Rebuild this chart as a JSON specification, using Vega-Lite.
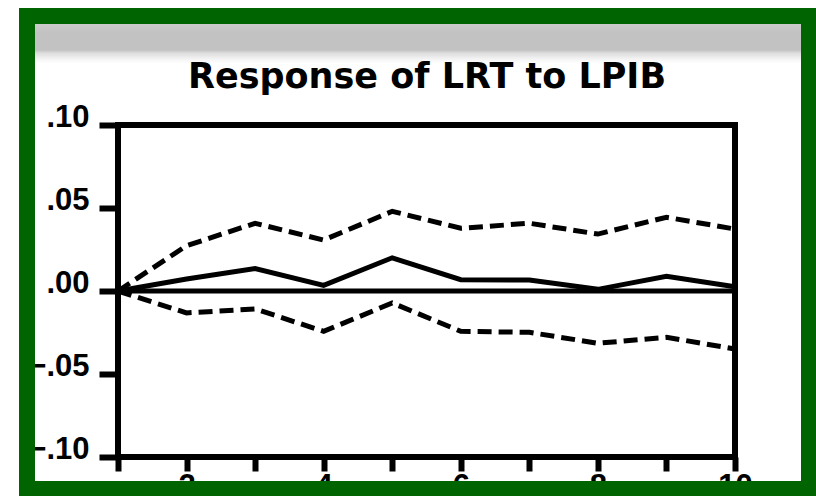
{
  "$schema": "https://vega.github.io/schema/vega-lite/v6.json",
  "width": 782,
  "height": 473,
  "autosize": {"type": "none"},
  "padding": {"left": 27, "top": 16, "right": 7, "bottom": 7},
  "background": "white",
  "config": {
    "view": {
      "stroke": null,
      "fill": {
        "gradient": "linear", "x1": 0, "y1": 0, "x2": 0, "y2": 1,
        "stops": [
          {"offset": 0, "color": "#d4d4d4"},
          {"offset": 0.036, "color": "#c2c2c2"},
          {"offset": 0.072, "color": "#c2c2c2"},
          {"offset": 0.078, "color": "#dcdcdc"},
          {"offset": 0.09, "color": "#f2f2f2"},
          {"offset": 0.1, "color": "#ffffff"},
          {"offset": 1, "color": "#ffffff"}
        ]
      }
    }
  },
  "title": {
    "text": "Response of LRT to LPIB",
    "font": "DejaVu Sans",
    "fontSize": 35,
    "fontWeight": "bold",
    "color": "black",
    "anchor": "middle",
    "frame": "group",
    "dx": 9,
    "offset": -115,
    "baseline": "alphabetic"
  },
  "data": {
    "values": [
      {"period": 1, "response": 0.0, "lower": 0.0, "upper": 0.0},
      {"period": 2, "response": 0.0072, "lower": -0.0132, "upper": 0.0273},
      {"period": 3, "response": 0.0135, "lower": -0.0108, "upper": 0.0408},
      {"period": 4, "response": 0.0034, "lower": -0.0243, "upper": 0.0307},
      {"period": 5, "response": 0.0200, "lower": -0.0072, "upper": 0.0480},
      {"period": 6, "response": 0.0068, "lower": -0.0243, "upper": 0.0378},
      {"period": 7, "response": 0.0066, "lower": -0.0249, "upper": 0.0408},
      {"period": 8, "response": 0.0010, "lower": -0.0315, "upper": 0.0343},
      {"period": 9, "response": 0.0088, "lower": -0.0279, "upper": 0.0444},
      {"period": 10, "response": 0.0025, "lower": -0.0349, "upper": 0.0373}
    ]
  },
  "layer": [
    {
      "mark": {"type": "line", "color": "black", "strokeWidth": 5, "strokeDash": [14, 7], "strokeCap": "butt"},
      "encoding": {
        "x": {
          "field": "period", "type": "quantitative",
          "scale": {"domain": [-0.3274, 11.0794], "nice": false, "zero": false},
          "axis": {
            "orient": "bottom", "offset": -32, "values": [1, 2, 3, 4, 5, 6, 7, 8, 9, 10],
            "labelExpr": "datum.value % 2 == 0 ? format(datum.value, 'd') : ''",
            "domain": false, "grid": false, "tickSize": 14, "tickWidth": 6, "tickColor": "black",
            "labelFont": "Liberation Sans", "labelFontSize": 31, "labelFontWeight": "bold",
            "labelColor": "black", "labelPadding": 0, "labelFlush": false, "labelOverlap": false,
            "title": null
          }
        },
        "y": {
          "field": "upper", "type": "quantitative",
          "scale": {"domain": [-0.11928, 0.16566], "nice": false, "zero": false},
          "axis": {
            "orient": "left", "offset": -91, "values": [-0.1, -0.05, 0, 0.05, 0.1],
            "labelExpr": "replace(format(datum.value, '.2f'), '0.', '.')",
            "domain": false, "grid": false, "tickSize": 19, "tickWidth": 6, "tickColor": "black",
            "labelFont": "Liberation Sans", "labelFontSize": 31, "labelFontWeight": "bold",
            "labelColor": "black", "labelPadding": 10, "labelOffset": -7, "labelBaseline": "middle",
            "labelFlush": false, "labelOverlap": false,
            "title": null
          }
        }
      }
    },
    {
      "mark": {"type": "line", "color": "black", "strokeWidth": 5, "strokeDash": [14, 7], "strokeCap": "butt"},
      "encoding": {
        "x": {"field": "period", "type": "quantitative"},
        "y": {"field": "lower", "type": "quantitative"}
      }
    },
    {
      "mark": {"type": "line", "color": "black", "strokeWidth": 5},
      "encoding": {
        "x": {"field": "period", "type": "quantitative"},
        "y": {"field": "response", "type": "quantitative"}
      }
    },
    {
      "data": {"values": [{}]},
      "mark": {"type": "rule", "color": "black", "strokeWidth": 5},
      "encoding": {
        "x": {"datum": 1, "type": "quantitative"},
        "x2": {"datum": 10},
        "y": {"datum": 0, "type": "quantitative"}
      }
    },
    {
      "data": {"values": [{}]},
      "mark": {"type": "rect", "filled": false, "stroke": "black", "strokeWidth": 6},
      "encoding": {
        "x": {"datum": 1, "type": "quantitative"},
        "x2": {"datum": 10},
        "y": {"datum": -0.1, "type": "quantitative"},
        "y2": {"datum": 0.1}
      }
    },
    {
      "data": {"values": [{}]},
      "mark": {"type": "rect", "filled": false, "stroke": "#006400", "strokeWidth": 16},
      "encoding": {
        "x": {"datum": -0.3274, "type": "quantitative"},
        "x2": {"datum": 11.0794},
        "y": {"datum": -0.11928, "type": "quantitative"},
        "y2": {"datum": 0.16566}
      }
    }
  ]
}
